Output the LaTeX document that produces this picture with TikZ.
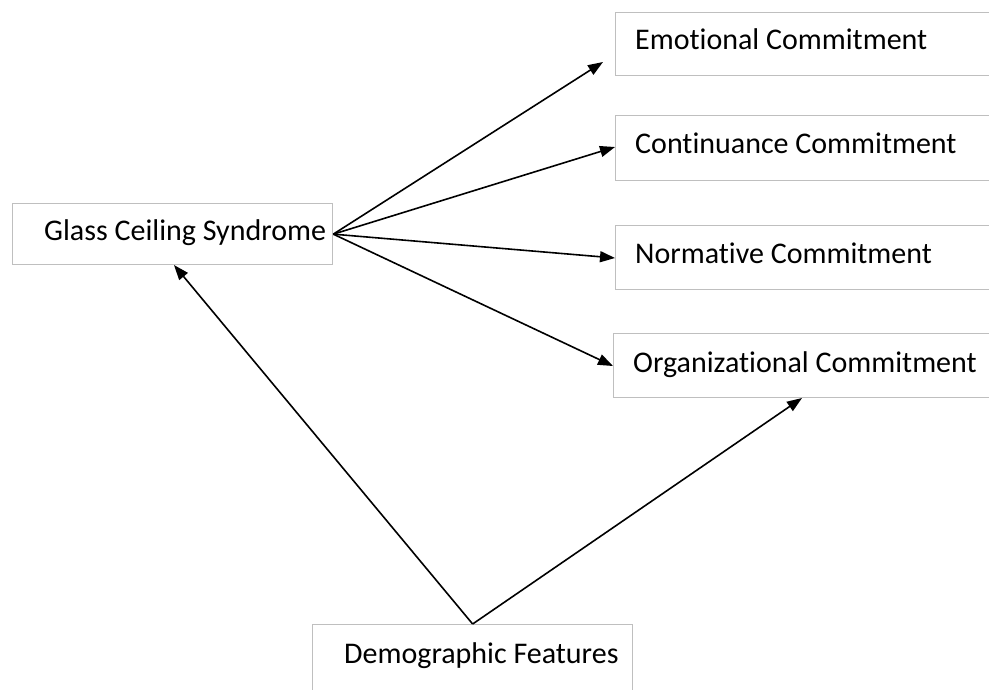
\documentclass[tikz,border=0pt]{standalone}
\usepackage{fontspec}
\setmainfont{Carlito}[RawFeature={-liga;-clig}]
\usetikzlibrary{arrows.meta}
\definecolor{boxgray}{HTML}{BFBFBF}
\begin{document}
\begin{tikzpicture}[x=1pt,y=-1pt,
  box/.style={draw=boxgray, line width=1.3pt, fill=none, inner sep=0pt, anchor=north west},
  lbl/.style={anchor=base west, inner sep=0pt, font=\fontsize{30}{36}\selectfont},
  conn/.style={line width=1.6pt, -{Triangle[length=15pt,width=11pt]}}]
\useasboundingbox (0,0) rectangle (989,689);
% boxes
\node[box, minimum width=390pt, minimum height=63pt] (emo)   at (615,12)  {};
\node[box, minimum width=390pt, minimum height=65pt] (cont)  at (615,115) {};
\node[box, minimum width=390pt, minimum height=64pt] (norm)  at (615,225) {};
\node[box, minimum width=392pt, minimum height=64pt] (org)   at (613,333) {};
\node[box, minimum width=320pt, minimum height=61pt] (glass) at (12,203)  {};
\node[box, minimum width=320pt, minimum height=80pt] (demo)  at (312,624) {};
% labels
\node[lbl] (emoT)   at (635,49)  {Emotional Commitment};
\node[lbl] (contT)  at (635,153) {Continuance Commitment};
\node[lbl] (normT)  at (635,263) {Normative Commitment};
\node[lbl] (orgT)   at (633,372) {Organizational Commitment};
\node[lbl] (glassT) at (44,240)  {Glass Ceiling Syndrome};
\node[lbl] (demoT)  at (344,663) {Demographic Features};
% arrow tips
\coordinate (tE) at (603,62);
\coordinate (tC) at (615,147);
\coordinate (tN) at (615,258);
\coordinate (tO) at (613,366);
\coordinate (tG) at (174,265);
\coordinate (tOrg) at (802,398);
% connectors
\draw[conn] (glass.east) -- (tE);
\draw[conn] (glass.east) -- (tC);
\draw[conn] (glass.east) -- (tN);
\draw[conn] (glass.east) -- (tO);
\draw[conn] (demo.north) -- (tG);
\draw[conn] (demo.north) -- (tOrg);
\end{tikzpicture}
\end{document}
